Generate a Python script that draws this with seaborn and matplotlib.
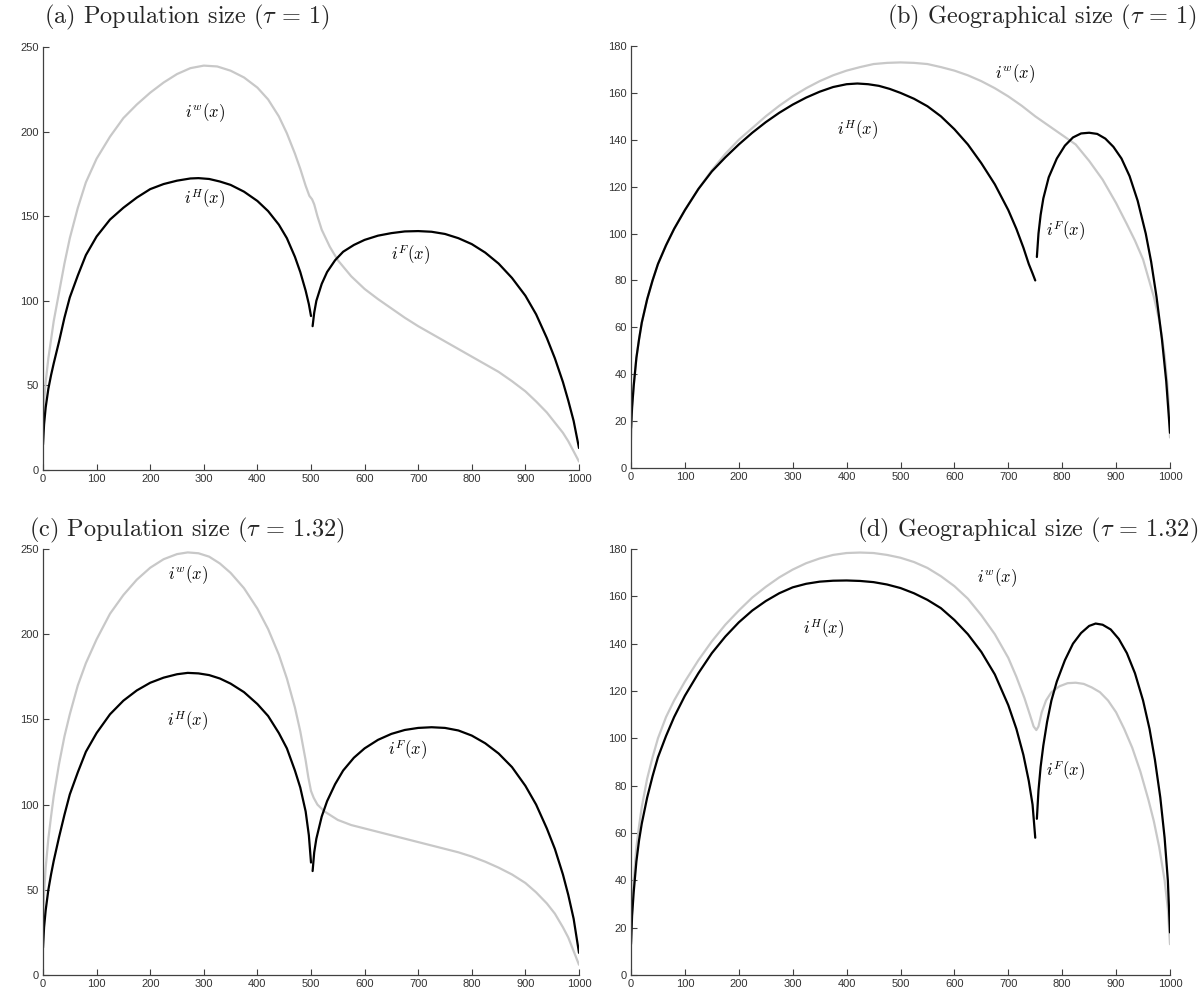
import numpy as np
import pandas as pd
import matplotlib
matplotlib.use("Agg")
import matplotlib.pyplot as plt
import seaborn as sns

sns.set_style("ticks")
plt.rcParams["font.family"] = ["Liberation Sans", "DejaVu Sans"]
plt.rcParams["mathtext.fontset"] = "cm"

# ---------------- data ----------------
# Panel (a): Population size, tau = 1
a_w_x = [0, 2, 5, 10, 15, 20, 30, 40, 50, 65, 80, 100, 125, 150, 175, 200, 225, 250, 275, 300, 325, 350, 375, 400, 420, 440, 455, 470, 480, 490, 497, 502, 506, 512, 520, 535, 550, 575, 600, 625, 650, 675, 700, 725, 750, 775, 800, 825, 850, 875, 900, 920, 940, 955, 970, 980, 990, 1000]
a_w_y = [27, 40, 52, 66, 77, 88, 105, 122, 137, 155, 170, 184, 197, 208, 216, 223, 229, 234, 237.5, 239, 238.5, 236, 232, 226, 219, 209, 199, 187, 178, 168, 162, 160, 157, 150, 142, 132, 124, 114.5, 107, 101, 95.5, 90, 85, 80.5, 76, 71.5, 67, 62.5, 58, 52.5, 46.5, 40.5, 34, 28, 22, 17, 11, 5]
a_h_x = [0, 2, 5, 10, 15, 20, 30, 40, 50, 65, 80, 100, 125, 150, 175, 200, 225, 250, 275, 290, 310, 330, 350, 375, 400, 420, 440, 455, 470, 480, 490, 496, 500]
a_h_y = [15, 27, 37, 48, 56, 63, 76, 90, 102, 115, 127, 138, 148, 155, 161, 166, 169, 171, 172.3, 172.5, 172, 170.5, 168.5, 164.5, 159, 153, 145, 137, 126, 117, 106, 98, 91]
a_f_x = [503, 506, 510, 520, 530, 545, 560, 580, 600, 625, 650, 675, 700, 725, 750, 775, 800, 825, 850, 875, 900, 920, 940, 955, 970, 980, 990, 1000]
a_f_y = [85, 93, 100, 110, 117, 124, 129, 133, 136, 138.5, 140, 141, 141.2, 140.8, 139.5, 137, 133.5, 128.5, 122, 113.5, 103, 92, 78, 66, 52, 41, 29, 13]

# Panel (b): Geographical size, tau = 1
b_w_x = [0, 2, 5, 10, 15, 20, 30, 40, 50, 65, 80, 100, 125, 150, 175, 200, 225, 250, 275, 300, 325, 350, 375, 400, 425, 450, 475, 500, 525, 550, 575, 600, 625, 650, 675, 700, 725, 750, 775, 800, 825, 850, 875, 900, 920, 935, 950, 960, 970, 980, 985, 990, 995, 998, 1000]
b_w_y = [12, 25, 35, 47, 55, 62, 72, 80, 87, 95, 102, 110, 119, 127, 134, 140, 145, 150, 154.5, 158.5, 162, 165, 167.5, 169.5, 171, 172.3, 172.8, 173, 172.8, 172.3, 171, 169.5, 167.5, 165, 162, 158.5, 154.5, 150, 146, 142, 138, 131, 123, 113, 104, 97, 89, 81, 73, 63, 56, 48, 36, 26, 13]
b_h_x = [0, 2, 5, 10, 15, 20, 30, 40, 50, 65, 80, 100, 125, 150, 175, 200, 225, 250, 275, 300, 325, 350, 375, 400, 420, 440, 460, 480, 500, 525, 550, 575, 600, 625, 650, 675, 700, 715, 728, 738, 745, 750]
b_h_y = [17, 26, 35, 47, 55, 62, 72, 80, 87, 95, 102, 110, 119, 126.5, 132.5, 138, 143, 147.5, 151.5, 155, 158, 160.5, 162.5, 163.7, 164, 163.7, 163, 161.7, 160, 157.5, 154.3, 150, 144.5, 138, 130, 121, 110, 102, 94, 87, 83, 80]
b_f_x = [753, 756, 760, 765, 775, 790, 805, 820, 835, 850, 865, 880, 895, 910, 925, 940, 955, 965, 975, 985, 993, 1000]
b_f_y = [90, 100, 108, 115, 124, 132, 137.5, 141, 142.7, 143, 142.5, 140.5, 137, 132, 124.5, 114, 100, 88, 73, 55, 37, 15]

# Panel (c): Population size, tau = 1.32
c_w_x = [0, 2, 5, 10, 15, 20, 30, 40, 50, 65, 80, 100, 125, 150, 175, 200, 225, 250, 270, 290, 310, 330, 350, 375, 400, 420, 440, 455, 470, 480, 490, 495, 500, 505, 512, 525, 550, 575, 600, 650, 700, 750, 775, 800, 825, 850, 875, 900, 920, 940, 955, 970, 980, 990, 1000]
c_w_y = [30, 48, 63, 80, 93, 105, 124, 140, 153, 170, 183, 197, 212, 223, 232, 239, 244, 247, 248, 247.5, 245.5, 241.5, 236, 227, 215, 203, 188, 174, 157, 143, 126, 116, 108, 104, 100, 96, 91, 88, 86, 82, 78, 74, 72, 69.5, 66.5, 63, 59, 54, 48.5, 42, 36, 28, 22, 14, 6]
c_h_x = [0, 2, 5, 10, 15, 20, 30, 40, 50, 65, 80, 100, 125, 150, 175, 200, 225, 250, 270, 290, 310, 330, 350, 375, 400, 420, 440, 455, 470, 480, 490, 496, 500]
c_h_y = [16, 28, 38, 50, 59, 67, 81, 94, 106, 119, 131, 142, 153, 161, 167, 171.5, 174.5, 176.5, 177.3, 177, 176, 174, 171, 166, 159, 152, 142, 133, 120, 110, 96, 82, 66]
c_f_x = [503, 506, 510, 520, 530, 545, 560, 580, 600, 625, 650, 675, 700, 725, 750, 775, 800, 825, 850, 875, 900, 920, 940, 955, 970, 980, 990, 1000]
c_f_y = [61, 72, 80, 93, 102, 112, 120, 127.5, 133, 138, 141.5, 143.8, 145, 145.4, 145, 143.5, 140.5, 136, 130, 122, 111, 100, 86, 74, 59, 47, 33, 13]

# Panel (d): Geographical size, tau = 1.32
d_w_x = [0, 2, 5, 10, 15, 20, 30, 40, 50, 65, 80, 100, 125, 150, 175, 200, 225, 250, 275, 300, 325, 350, 375, 400, 425, 450, 475, 500, 525, 550, 575, 600, 625, 650, 675, 700, 715, 730, 740, 747, 752, 756, 762, 770, 780, 795, 810, 825, 840, 855, 870, 885, 900, 915, 930, 945, 960, 970, 980, 990, 996, 1000]
d_w_y = [14, 28, 40, 54, 63, 71, 83, 92, 100, 109, 116, 124, 133, 141, 148, 154, 159.5, 164, 168, 171.3, 174, 176, 177.5, 178.3, 178.5, 178.3, 177.5, 176.3, 174.5, 172, 168.5, 164.3, 159, 152, 144, 134, 126, 117, 110, 105, 103.5, 105, 111, 116, 119.5, 122, 123.3, 123.5, 123, 121.5, 119.5, 116, 111, 104, 96, 86, 74, 65, 54, 40, 28, 13]
d_h_x = [0, 2, 5, 10, 15, 20, 30, 40, 50, 65, 80, 100, 125, 150, 175, 200, 225, 250, 275, 300, 325, 350, 375, 400, 425, 450, 475, 500, 525, 550, 575, 600, 625, 650, 675, 700, 715, 728, 738, 745, 750]
d_h_y = [13, 25, 35, 48, 57, 64, 75, 84, 92, 101, 109, 118, 127.5, 136, 143, 149, 154, 158, 161.3, 163.8, 165.3, 166.2, 166.6, 166.7, 166.5, 166, 165, 163.5, 161.3, 158.5, 155, 150, 144, 136.5, 127, 114, 104, 93, 82, 72, 58]
d_f_x = [753, 756, 760, 765, 772, 780, 790, 805, 820, 835, 850, 862, 875, 890, 905, 920, 935, 950, 962, 972, 982, 990, 996, 1000]
d_f_y = [66, 78, 88, 97, 107, 116, 124, 133, 140, 144.5, 147.5, 148.5, 148, 146, 142, 136, 127.5, 116, 104, 91, 75, 58, 40, 18]

titles = ["(a) Population size ($\\tau$ = 1)",
          "(b) Geographical size ($\\tau$ = 1)",
          "(c) Population size ($\\tau$ = 1.32)",
          "(d) Geographical size ($\\tau$ = 1.32)"]
x_ticks = [0, 100, 200, 300, 400, 500, 600, 700, 800, 900, 1000]
pop_yticks = [0, 50, 100, 150, 200, 250]
geo_yticks = [0, 20, 40, 60, 80, 100, 120, 140, 160, 180]

curve_labels = ["$i^w(x)$", "$i^H(x)$", "$i^F(x)$"]
# label anchor positions in data coordinates (w, H, F) for each panel
label_pos = {
    "a": [(302, 211), (302, 160), (685, 127)],
    "b": [(712, 168), (421, 144), (807, 101)],
    "c": [(270, 235), (270, 149), (681, 132)],
    "d": [(679, 168), (358, 146), (807, 86)],
}

panels = {
    "a": (a_w_x, a_w_y, a_h_x, a_h_y, a_f_x, a_f_y, pop_yticks),
    "b": (b_w_x, b_w_y, b_h_x, b_h_y, b_f_x, b_f_y, geo_yticks),
    "c": (c_w_x, c_w_y, c_h_x, c_h_y, c_f_x, c_f_y, pop_yticks),
    "d": (d_w_x, d_w_y, d_h_x, d_h_y, d_f_x, d_f_y, geo_yticks),
}

W, H = 1204, 994
def rect(l, r, top, bot):
    return [l / W, (H - bot) / H, (r - l) / W, (bot - top) / H]

positions = {
    "a": rect(43, 579, 47, 470),
    "b": rect(631, 1170, 46, 468),
    "c": rect(43, 579, 549, 975),
    "d": rect(631, 1170, 549, 975),
}

GRAY = "#c8c8c8"
AXC = "#404040"

fig = plt.figure(figsize=(W / 100, H / 100), dpi=100)

for key in ["a", "b", "c", "d"]:
    wx, wy, hx, hy, fx, fy, yt = panels[key]
    ax = fig.add_axes(positions[key])
    sns.lineplot(x=wx, y=wy, ax=ax, color=GRAY, linewidth=1.6, sort=False, estimator=None)
    sns.lineplot(x=hx, y=hy, ax=ax, color="black", linewidth=1.6, sort=False, estimator=None)
    sns.lineplot(x=fx, y=fy, ax=ax, color="black", linewidth=1.6, sort=False, estimator=None)
    ax.set_xlim(0, 1000)
    ax.set_ylim(yt[0], yt[-1])
    ax.set_xticks(x_ticks)
    ax.set_yticks(yt)
    ax.set_xticklabels([str(v) for v in x_ticks])
    ax.set_yticklabels([str(v) for v in yt])
    sns.despine(ax=ax)
    for s in ["left", "bottom"]:
        ax.spines[s].set_color(AXC)
        ax.spines[s].set_linewidth(0.9)
    ax.tick_params(direction="in", length=4, width=0.8, color=AXC,
                   labelsize=8, labelcolor="#333333", pad=3)
    ax.set_xlabel("")
    ax.set_ylabel("")
    for lab, (lx, ly) in zip(curve_labels, label_pos[key]):
        ax.text(lx, ly, lab, fontsize=12, ha="center", va="center", color="black")

# panel titles
tfs = 17.5
fig.text(187 / W, 1 - 17 / H, titles[0], fontsize=tfs, family="cmr10", ha="center", va="center")
fig.text(1197 / W, 1 - 17 / H, titles[1], fontsize=tfs, family="cmr10", ha="right", va="center")
fig.text(187 / W, 1 - 530 / H, titles[2], fontsize=tfs, family="cmr10", ha="center", va="center")
fig.text(1198 / W, 1 - 530 / H, titles[3], fontsize=tfs, family="cmr10", ha="right", va="center")

fig.savefig("out.png", dpi=100)
